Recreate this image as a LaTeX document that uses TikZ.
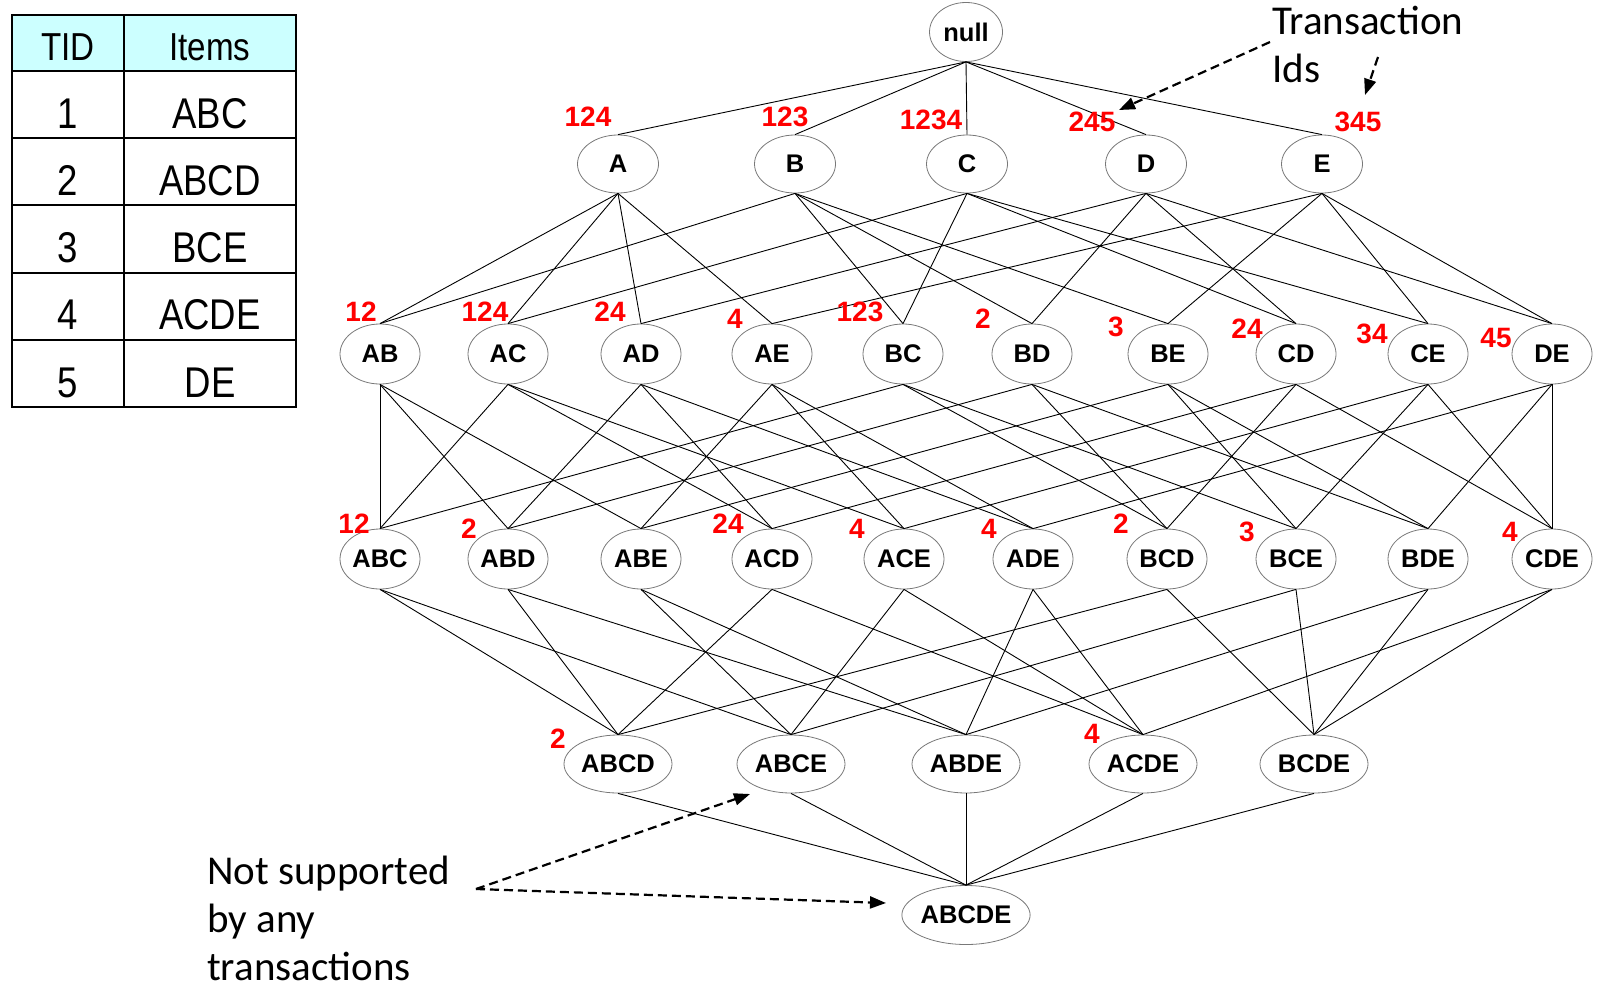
\documentclass[tikz,border=0pt]{standalone}
\usepackage{fontspec}
\setmainfont{Liberation Sans}
\newfontfamily\tabfont[FakeStretch=0.85]{Liberation Sans}
\newfontfamily\notefont{Carlito}
\usetikzlibrary{shapes.geometric,arrows.meta}
\definecolor{hdrcyan}{RGB}{204,255,255}
\definecolor{ellgray}{RGB}{120,120,120}
\begin{document}
\begin{tikzpicture}[x=1pt,y=-1pt,
  ell/.style={ellipse,draw=ellgray,line width=0.8pt,inner sep=0pt,minimum width=80pt,minimum height=60pt,font=\bfseries\fontsize{25.5}{29}\selectfont},
  ellone/.style={ell,minimum width=81pt,minimum height=58pt},
  ellfour/.style={ell,minimum width=108pt,minimum height=58pt},
  ellfive/.style={ell,minimum width=128pt,minimum height=59pt},
  idlab/.style={text=red,font=\bfseries\fontsize{28}{32}\selectfont,inner sep=0pt},
  link/.style={line width=0.9pt,black},
  note/.style={font=\notefont\fontsize{41}{48}\selectfont,align=left,inner sep=0pt,anchor=base west},
  callout/.style={line width=2.2pt,dash pattern=on 9pt off 5pt,-{Triangle[length=16pt,width=12pt]}},
  cell/.style={font=\tabfont\fontsize{43}{48}\selectfont,inner sep=0pt,anchor=base},
  hcell/.style={cell,font=\tabfont\fontsize{39}{44}\selectfont},
  grid/.style={line width=2pt,black}
]
\useasboundingbox (0,0) rectangle (1600,993);

% ---------- table ----------
\fill[hdrcyan] (12,15) rectangle (296,71);
\draw[grid] (12,15) rectangle (296,407);
\draw[grid] (124,15) -- (124,407);
\foreach \yy in {71,138,205,273,340} \draw[grid] (12,\yy) -- (296,\yy);
\node[hcell] (h1) at (68,60) {TID};
\node[hcell] (h2) at (210,60) {Items};
\node[cell] (t1) at (68,128) {1};  \node[cell] (i1) at (210,128) {ABC};
\node[cell] (t2) at (68,195) {2};  \node[cell] (i2) at (210,195) {ABCD};
\node[cell] (t3) at (68,262) {3};  \node[cell] (i3) at (210,262) {BCE};
\node[cell] (t4) at (68,329) {4};  \node[cell] (i4) at (210,329) {ACDE};
\node[cell] (t5) at (68,397) {5};  \node[cell] (i5) at (210,397) {DE};

% ---------- lattice nodes ----------
\node[ell,minimum width=73pt,minimum height=59pt] (null) at (966,32) {null};

\node[ellone] (A) at (618,164) {A};
\node[ellone] (B) at (795,164) {B};
\node[ellone] (C) at (967,164) {C};
\node[ellone] (D) at (1146,164) {D};
\node[ellone] (E) at (1322,164) {E};

\node[ell] (AB) at (380,354) {AB};
\node[ell] (AC) at (508,354) {AC};
\node[ell] (AD) at (641,354) {AD};
\node[ell] (AE) at (772,354) {AE};
\node[ell] (BC) at (903,354) {BC};
\node[ell] (BD) at (1032,354) {BD};
\node[ell] (BE) at (1168,354) {BE};
\node[ell] (CD) at (1296,354) {CD};
\node[ell] (CE) at (1428,354) {CE};
\node[ell] (DE) at (1552,354) {DE};

\node[ell] (ABC) at (380,559) {ABC};
\node[ell] (ABD) at (508,559) {ABD};
\node[ell] (ABE) at (641,559) {ABE};
\node[ell] (ACD) at (772,559) {ACD};
\node[ell] (ACE) at (904,559) {ACE};
\node[ell] (ADE) at (1033,559) {ADE};
\node[ell] (BCD) at (1167,559) {BCD};
\node[ell] (BCE) at (1296,559) {BCE};
\node[ell] (BDE) at (1428,559) {BDE};
\node[ell] (CDE) at (1552,559) {CDE};

\node[ellfour] (ABCD) at (618,764) {ABCD};
\node[ellfour] (ABCE) at (791,764) {ABCE};
\node[ellfour] (ABDE) at (966,764) {ABDE};
\node[ellfour] (ACDE) at (1143,764) {ACDE};
\node[ellfour] (BCDE) at (1314,764) {BCDE};

\node[ellfive] (ABCDE) at (966,915) {ABCDE};

% ---------- lattice edges ----------
\foreach \s in {A,B,C,D,E} \draw[link] (null.south) -- (\s.north);
\foreach \a/\b in {A/B,A/C,A/D,A/E,B/C,B/D,B/E,C/D,C/E,D/E} {
  \draw[link] (\a.south) -- (\a\b.north);
  \draw[link] (\b.south) -- (\a\b.north);
}
\foreach \a/\b/\c in {A/B/C,A/B/D,A/B/E,A/C/D,A/C/E,A/D/E,B/C/D,B/C/E,B/D/E,C/D/E} {
  \draw[link] (\a\b.south) -- (\a\b\c.north);
  \draw[link] (\a\c.south) -- (\a\b\c.north);
  \draw[link] (\b\c.south) -- (\a\b\c.north);
}
\foreach \a/\b/\c/\d in {A/B/C/D,A/B/C/E,A/B/D/E,A/C/D/E,B/C/D/E} {
  \draw[link] (\a\b\c.south) -- (\a\b\c\d.north);
  \draw[link] (\a\b\d.south) -- (\a\b\c\d.north);
  \draw[link] (\a\c\d.south) -- (\a\b\c\d.north);
  \draw[link] (\b\c\d.south) -- (\a\b\c\d.north);
}
\foreach \s in {ABCD,ABCE,ABDE,ACDE,BCDE} \draw[link] (\s.south) -- (ABCDE.north);

% ---------- transaction id labels ----------
\node[idlab] (lA) at (588,117) {124};
\node[idlab] (lB) at (785,117) {123};
\node[idlab] (lC) at (931,120) {1234};
\node[idlab] (lD) at (1092,122) {245};
\node[idlab] (lE) at (1358,122) {345};

\node[idlab] (lAB) at (361,312) {12};
\node[idlab] (lAC) at (485,312) {124};
\node[idlab] (lAD) at (610,312) {24};
\node[idlab] (lAE) at (735,319) {4};
\node[idlab] (lBC) at (860,312) {123};
\node[idlab] (lBD) at (983,319) {2};
\node[idlab] (lBE) at (1116,327) {3};
\node[idlab] (lCD) at (1247,329) {24};
\node[idlab] (lCE) at (1372,334) {34};
\node[idlab] (lDE) at (1496,338) {45};

\node[idlab] (lABC) at (354,524) {12};
\node[idlab] (lABD) at (469,529) {2};
\node[idlab] (lACD) at (728,524) {24};
\node[idlab] (lACE) at (857,529) {4};
\node[idlab] (lADE) at (989,529) {4};
\node[idlab] (lBCD) at (1121,524) {2};
\node[idlab] (lBCE) at (1247,532) {3};
\node[idlab] (lCDE) at (1510,532) {4};

\node[idlab] (lABCD) at (558,739) {2};
\node[idlab] (lACDE) at (1092,734) {4};

% ---------- annotations ----------
\node[note] (tids) at (1272,82) {Transaction\\Ids};
\coordinate (ta1) at (1270,42);
\coordinate (tb1) at (1119,110);
\coordinate (ta2) at (1378,57);
\coordinate (tb2) at (1365,95);
\draw[callout] (ta1) -- (tb1);
\draw[callout] (ta2) -- (tb2);

\node[note] (nsup) at (207,980) {Not supported\\by any\\transactions};
\coordinate (ns) at (476,889);
\coordinate (nt1) at (750,794);
\coordinate (nt2) at (886,903);
\draw[callout] (ns) -- (nt1);
\draw[callout] (ns) -- (nt2);
\end{tikzpicture}
\end{document}
